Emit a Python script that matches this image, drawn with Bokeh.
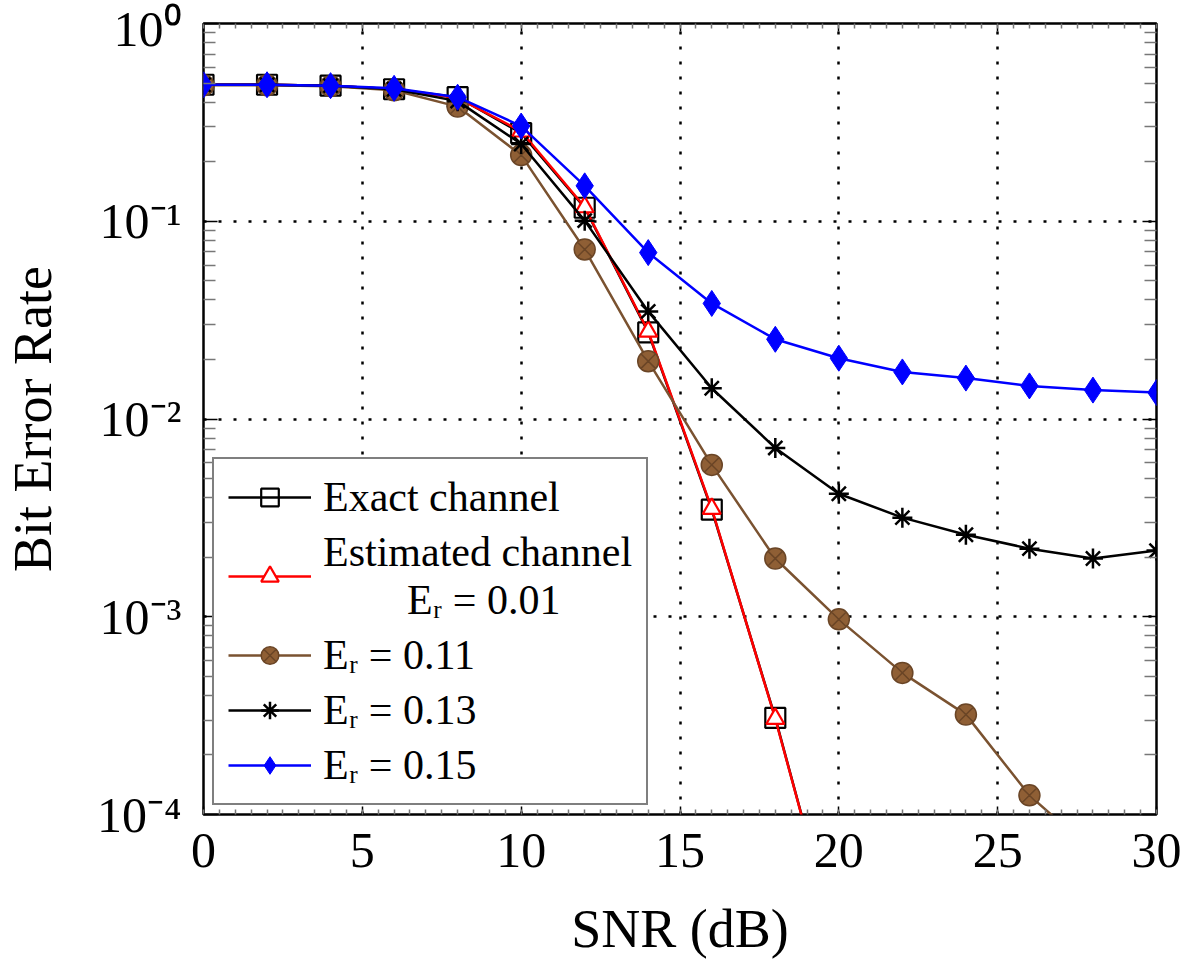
from bokeh.plotting import figure
from bokeh.models import (Range1d, FixedTicker, LinearAxis, LogAxis,
                          Legend, LegendItem)
from bokeh.embed import file_html
from bokeh.resources import INLINE

# ---------------- data ----------------
snr_exact = [0, 2, 4, 6, 8, 10, 12, 14, 16, 18, 20]
ber_exact = [0.49, 0.49, 0.485, 0.465, 0.424, 0.279, 0.117, 0.0274, 0.00348, 0.000308, 2.0e-5]
ber_est = [0.49, 0.49, 0.485, 0.465, 0.42, 0.285, 0.118, 0.0277, 0.00352, 0.000305, 2.0e-5]

snr = [0, 2, 4, 6, 8, 10, 12, 14, 16, 18, 20, 22, 24, 26, 28, 30]
ber_011 = [0.487, 0.487, 0.482, 0.46, 0.38, 0.216, 0.072, 0.0196, 0.00586, 0.00197,
           0.00097, 0.00052, 0.00032, 0.000125, 6.5e-5, 3.5e-5]
ber_013 = [0.49, 0.49, 0.485, 0.465, 0.405, 0.246, 0.1007, 0.035, 0.0143, 0.00714,
           0.00419, 0.00317, 0.0026, 0.00221, 0.00197, 0.00216]
ber_015 = [0.49, 0.49, 0.485, 0.47, 0.424, 0.303, 0.151, 0.0694, 0.0384, 0.0253,
           0.0203, 0.0173, 0.0161, 0.0147, 0.0140, 0.0136]

x_ticks = [0, 5, 10, 15, 20, 25, 30]
y_ticks = [1.0, 0.1, 0.01, 0.001, 0.0001]
y_tick_labels = ["10\u2070", "10\u207b\u00b9", "10\u207b\u00b2", "10\u207b\u00b3", "10\u207b\u2074"]

labels = ["Exact channel", "Estimated channel\n        E\u1d63 = 0.01",
          "E\u1d63 = 0.11", "E\u1d63 = 0.13", "E\u1d63 = 0.15"]

FONT = "Liberation Serif"
BROWN_LINE = "#7a5230"
BROWN_FILL = "#8f5f35"
BROWN_EDGE = "#6a4526"

p = figure(width=1181, height=961, x_range=Range1d(0, 30), y_range=Range1d(1e-4, 1),
           y_axis_type="log", output_backend="svg", toolbar_location=None,
           min_border_left=202, min_border_right=25, min_border_top=23,
           min_border_bottom=145)
p.background_fill_color = "white"
p.border_fill_color = "white"
p.outline_line_color = "black"
p.outline_line_width = 2.5

# ---------------- ticks / axes ----------------
x_minor = [i * 0.5 for i in range(61)]
y_minor = [k * 10.0 ** d for d in range(-4, 0) for k in range(2, 10)]
xt = FixedTicker(ticks=x_ticks, minor_ticks=x_minor)
yt = FixedTicker(ticks=y_ticks, minor_ticks=y_minor)

def style_axis(ax, show_labels):
    ax.axis_line_color = None
    ax.major_tick_out = 0
    ax.minor_tick_out = 0
    ax.major_tick_line_color = "black"
    ax.major_tick_line_width = 1.5
    ax.minor_tick_line_color = "#777777"
    ax.minor_tick_line_width = 1.5
    if not show_labels:
        ax.major_label_text_font_size = "1px"
        ax.major_label_text_color = None
        ax.major_label_standoff = 0

xa = p.xaxis[0]
xa.ticker = xt
style_axis(xa, True)
xa.major_tick_in = 8
xa.minor_tick_in = 5
xa.major_label_text_font = FONT
xa.major_label_text_font_size = "50px"
xa.major_label_text_color = "black"
xa.major_label_standoff = 19
xa.axis_label = "SNR (dB)"
xa.axis_label_text_font = FONT
xa.axis_label_text_font_size = "54px"
xa.axis_label_text_font_style = "normal"
xa.axis_label_text_color = "black"
xa.axis_label_standoff = 29

ya = p.yaxis[0]
ya.ticker = yt
style_axis(ya, True)
ya.major_tick_in = 14
ya.minor_tick_in = 12
ya.major_label_overrides = {t: s for t, s in zip(y_ticks, y_tick_labels)}
ya.major_label_text_font = FONT
ya.major_label_text_font_size = "50px"
ya.major_label_text_color = "black"
ya.major_label_standoff = 22
ya.axis_label = "Bit Error Rate"
ya.axis_label_text_font = FONT
ya.axis_label_text_font_size = "54px"
ya.axis_label_text_font_style = "normal"
ya.axis_label_text_color = "black"
ya.axis_label_standoff = 31

top = LinearAxis(ticker=xt)
style_axis(top, False)
top.major_tick_in = 8
top.minor_tick_in = 5
p.add_layout(top, "above")

right = LogAxis(ticker=yt)
style_axis(right, False)
right.major_tick_in = 14
right.minor_tick_in = 12
p.add_layout(right, "right")

p.xgrid.ticker = FixedTicker(ticks=[5, 10, 15, 20, 25])
p.ygrid.ticker = FixedTicker(ticks=[0.1, 0.01, 0.001])
for g in (p.xgrid[0], p.ygrid[0]):
    g.grid_line_color = "black"
    g.grid_line_width = 2.5
    g.grid_line_dash = "3 12"
    g.minor_grid_line_color = None

# ---------------- series ----------------
items = []
l = p.line(snr_exact, ber_exact, line_color="black", line_width=2.5)
s = p.scatter(snr_exact, ber_exact, marker="square", size=20, line_color="black",
              line_width=2.2, fill_color=None)
items.append(LegendItem(label=labels[0], renderers=[l, s]))

l = p.line(snr_exact, ber_est, line_color="red", line_width=2.5)
s = p.scatter(snr_exact, ber_est, marker="triangle", size=18, line_color="red",
              line_width=2.2, fill_color="white")
items.append(LegendItem(label=labels[1], renderers=[l, s]))

l = p.line(snr, ber_011, line_color=BROWN_LINE, line_width=2.5)
s = p.scatter(snr, ber_011, marker="circle_x", size=21, line_color=BROWN_EDGE,
              line_width=1.5, fill_color=BROWN_FILL)
items.append(LegendItem(label=labels[2], renderers=[l, s]))

l = p.line(snr, ber_013, line_color="black", line_width=2.5)
s = p.scatter(snr, ber_013, marker="asterisk", size=20, line_color="black",
              line_width=2.5)
items.append(LegendItem(label=labels[3], renderers=[l, s]))

l = p.line(snr, ber_015, line_color="blue", line_width=2.5)
s = p.scatter(snr, ber_015, marker="diamond", size=26, line_color="blue",
              line_width=1, fill_color="blue")
items.append(LegendItem(label=labels[4], renderers=[l, s]))

legend = Legend(items=items, location="bottom_left")
legend.margin = 9
legend.padding = 14
legend.spacing = 7
legend.glyph_width = 83
legend.glyph_height = 44
legend.label_height = 44
legend.label_standoff = 12
legend.label_text_font = FONT
legend.label_text_font_size = "42px"
legend.label_text_line_height = 1.0
legend.label_text_color = "black"
legend.border_line_color = "black"
legend.border_line_width = 2.2
legend.background_fill_color = "white"
legend.background_fill_alpha = 1.0
p.add_layout(legend)

open("out.html", "w").write(file_html(p, INLINE))
